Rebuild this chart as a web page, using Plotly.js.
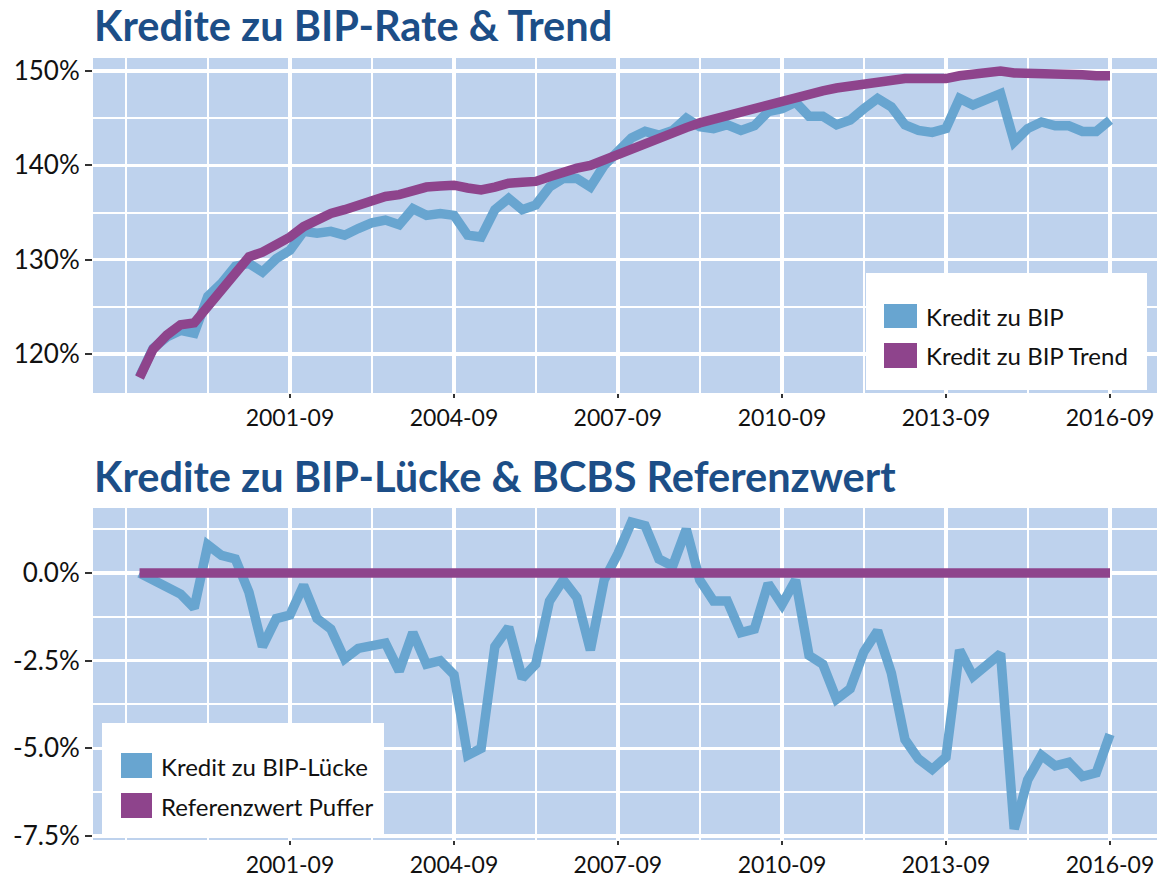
<!DOCTYPE html>
<html><head><meta charset="utf-8">
<script src="https://cdn.plot.ly/plotly-3.0.1.min.js"></script>
<style>html,body{margin:0;padding:0;background:#fff}#chart{width:1164px;height:878px}</style>
</head><body><div id="chart"></div>
<script>
const quarters = ["1998-12",
"1999-03","1999-06","1999-09","1999-12","2000-03","2000-06","2000-09","2000-12",
"2001-03","2001-06","2001-09","2001-12","2002-03","2002-06","2002-09","2002-12",
"2003-03","2003-06","2003-09","2003-12","2004-03","2004-06","2004-09","2004-12",
"2005-03","2005-06","2005-09","2005-12","2006-03","2006-06","2006-09","2006-12",
"2007-03","2007-06","2007-09","2007-12","2008-03","2008-06","2008-09","2008-12",
"2009-03","2009-06","2009-09","2009-12","2010-03","2010-06","2010-09","2010-12",
"2011-03","2011-06","2011-09","2011-12","2012-03","2012-06","2012-09","2012-12",
"2013-03","2013-06","2013-09","2013-12","2014-03","2014-06","2014-09","2014-12",
"2015-03","2015-06","2015-09","2015-12","2016-03","2016-06","2016-09"];

const kreditZuBIP = [117.6,
120.6,121.8,122.5,122.2,126.1,127.5,129.3,129.6,
128.7,130.1,131.0,133.0,132.8,133.0,132.6,133.3,
133.9,134.2,133.7,135.4,134.7,134.9,134.7,132.6,
132.4,135.3,136.5,135.3,135.8,137.7,138.6,138.6,
137.7,140.0,141.6,142.9,143.6,143.2,143.7,145.0,
144.1,143.9,144.3,143.7,144.2,145.7,146.0,146.7,
145.2,145.2,144.3,144.8,146.0,147.1,146.2,144.3,
143.7,143.5,143.9,147.1,146.4,147.1,147.6,142.5,
143.9,144.6,144.2,144.2,143.6,143.6,144.8];

const kreditZuBIPTrend = [117.5,
120.5,122.0,123.1,123.3,125.0,126.8,128.6,130.3,
130.8,131.6,132.4,133.5,134.2,134.9,135.3,135.8,
136.1,136.7,136.9,137.4,137.7,137.8,137.9,137.6,
137.4,137.7,138.1,138.2,138.3,138.8,139.3,139.7,
140.0,140.6,141.1,141.8,142.4,143.0,143.5,144.0,
144.5,144.9,145.2,145.6,146.0,146.5,146.7,147.3,
147.6,147.9,148.2,148.4,148.7,149.0,149.1,149.2,
149.2,149.2,149.2,149.5,149.7,149.9,150.0,149.8,
149.8,149.8,149.7,149.7,149.6,149.5,149.5];

const kreditZuBIPLuecke = [0.0,
-0.2,-0.4,-0.6,-1.0,0.8,0.5,0.4,-0.55,
-2.1,-1.3,-1.2,-0.35,-1.3,-1.6,-2.45,-2.15,
-2.05,-2.0,-2.8,-1.7,-2.6,-2.5,-2.9,-5.2,
-5.0,-2.1,-1.55,-3.0,-2.6,-0.8,-0.2,-0.7,
-2.2,-0.2,0.55,1.45,1.35,0.4,0.2,1.25,
-0.2,-0.8,-0.8,-1.7,-1.6,-0.3,-0.9,-0.2,
-2.35,-2.6,-3.6,-3.3,-2.25,-1.65,-2.85,-4.75,
-5.3,-5.6,-5.25,-2.2,-2.95,-2.65,-2.3,-7.3,
-5.9,-5.2,-5.5,-5.4,-5.8,-5.7,-4.6];

const referenzwertPuffer = [0,
0,0,0,0,0,0,0,0,
0,0,0,0,0,0,0,0,
0,0,0,0,0,0,0,0,
0,0,0,0,0,0,0,0,
0,0,0,0,0,0,0,0,
0,0,0,0,0,0,0,0,
0,0,0,0,0,0,0,0,
0,0,0,0,0,0,0,0,
0,0,0,0,0,0,0];

const titleTop = 'Kredite zu BIP-Rate & Trend';
const titleBottom = 'Kredite zu BIP-Lücke & BCBS Referenzwert';
const legendTop = ['Kredit zu BIP', 'Kredit zu BIP Trend'];
const legendBottom = ['Kredit zu BIP-Lücke', 'Referenzwert Puffer'];
const xTickVals = ['2001-09', '2004-09', '2007-09', '2010-09', '2013-09', '2016-09'];
const topTickVals = [120, 130, 140, 150];
const topTickText = ['120%', '130%', '140%', '150%'];
const botTickVals = [0, -2.5, -5, -7.5];
const botTickText = ['0.0%', '-2.5%', '-5.0%', '-7.5%'];

const BLUE = '#68a5d0';
const PURPLE = '#8e448c';
const BG = '#bed2ed';
const TITLE = '#1c4e87';
const FONT = 'Lato, "Open Sans", sans-serif';

const W = 1164, H = 878;
const px = x => x / W;
const py = y => 1 - y / H;

function xAxis(anchor) {
  return {
    type: 'date', anchor: anchor,
    domain: [px(93), px(1157)],
    range: ['1998-01-24', '2017-07-12'],
    tickmode: 'array', tickvals: xTickVals, tickformat: '%Y-%m',
    showgrid: true, gridcolor: '#ffffff', gridwidth: 3.5,
    minor: {tickmode: 'linear', tick0: '2001-09-01', dtick: 'M18', showgrid: true, gridcolor: '#ffffff', gridwidth: 2, ticks: ''},
    ticks: 'outside', ticklen: 4, tickwidth: 2, tickcolor: '#333',
    tickfont: {family: FONT, size: 23, color: '#111'},
    zeroline: false, showline: false, fixedrange: true
  };
}
function yAxis(anchor, dom, range, vals, text, minorStep) {
  return {
    anchor: anchor, domain: dom, range: range,
    tickmode: 'array', tickvals: vals, ticktext: text,
    showgrid: true, gridcolor: '#ffffff', gridwidth: 3.5,
    minor: {tickmode: 'linear', tick0: 0, dtick: minorStep, showgrid: true, gridcolor: '#ffffff', gridwidth: 2, ticks: ''},
    ticks: 'outside', ticklen: 7, tickwidth: 2, tickcolor: '#333',
    tickfont: {family: FONT, size: 26, color: '#111'},
    zeroline: false, showline: false, fixedrange: true
  };
}

const traces = [
  {x: quarters, y: kreditZuBIP, name: legendTop[0], type: 'scatter', mode: 'lines', xaxis: 'x', yaxis: 'y', line: {color: BLUE, width: 9.5}, showlegend: false},
  {x: quarters, y: kreditZuBIPTrend, name: legendTop[1], type: 'scatter', mode: 'lines', xaxis: 'x', yaxis: 'y', line: {color: PURPLE, width: 9.5}, showlegend: false},
  {x: quarters, y: kreditZuBIPLuecke, name: legendBottom[0], type: 'scatter', mode: 'lines', xaxis: 'x2', yaxis: 'y2', line: {color: BLUE, width: 9.5}, showlegend: false},
  {x: quarters, y: referenzwertPuffer, name: legendBottom[1], type: 'scatter', mode: 'lines', xaxis: 'x2', yaxis: 'y2', line: {color: PURPLE, width: 9.5}, showlegend: false}
];

function rect(x0, y0, x1, y1, color) {
  return {type: 'rect', xref: 'paper', yref: 'paper', x0: px(x0), x1: px(x1), y0: py(y1), y1: py(y0),
    fillcolor: color, line: {width: 0}, layer: 'above'};
}
function label(x, y, text) {
  return {xref: 'paper', yref: 'paper', x: px(x), y: py(y), xanchor: 'left', yanchor: 'middle',
    text: text, showarrow: false, font: {family: FONT, size: 24, color: '#111'}};
}
function title(x, y, text) {
  return {xref: 'paper', yref: 'paper', x: px(x), y: py(y), xanchor: 'left', yanchor: 'middle',
    text: '<b>' + text + '</b>', showarrow: false, font: {family: FONT, size: 41.5, color: TITLE}};
}

const layout = {
  width: W, height: H,
  margin: {l: 0, r: 0, t: 0, b: 0},
  paper_bgcolor: '#ffffff', plot_bgcolor: BG,
  showlegend: false,
  xaxis: xAxis('y'),
  yaxis: yAxis('x', [py(393), py(58)], [115.87, 151.38], topTickVals, topTickText, 5),
  xaxis2: xAxis('y2'),
  yaxis2: yAxis('x2', [py(840), py(508)], [-7.614, 1.853], botTickVals, botTickText, 1.25),
  shapes: [
    rect(866, 273, 1147, 390, '#ffffff'),
    rect(884, 304, 917, 328, BLUE),
    rect(884, 343, 917, 368, PURPLE),
    rect(102, 723, 384, 834, '#ffffff'),
    rect(121, 753, 152, 778, BLUE),
    rect(121, 793, 152, 818, PURPLE)
  ],
  annotations: [
    title(92, 25, titleTop),
    title(92, 476, titleBottom),
    label(924, 316, legendTop[0]),
    label(924, 355, legendTop[1]),
    label(159, 766, legendBottom[0]),
    label(159, 806, legendBottom[1])
  ]
};

Plotly.newPlot('chart', traces, layout, {displayModeBar: false, staticPlot: true});
</script>
</body></html>
